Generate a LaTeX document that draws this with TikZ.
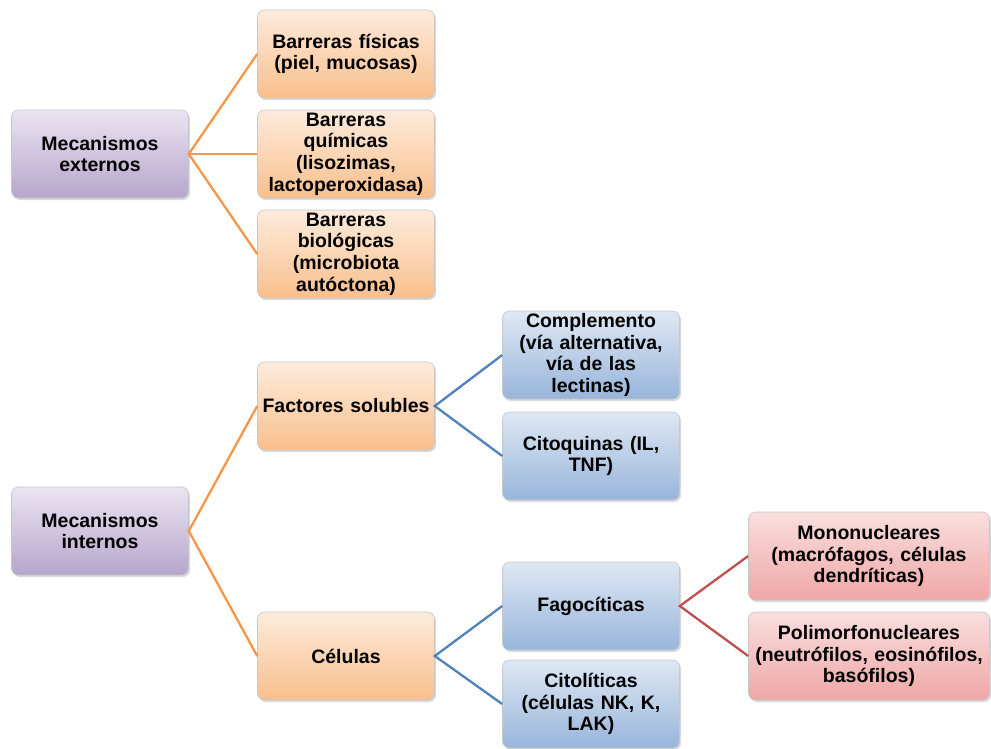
\documentclass[tikz,border=0pt]{standalone}
\usepackage{fontspec}
\setmainfont{Liberation Sans}
\usetikzlibrary{shadows}
\definecolor{lilactop}{HTML}{EAE4F2}
\definecolor{lilacbot}{HTML}{B7A6CC}
\definecolor{peachtop}{HTML}{FDEBDC}
\definecolor{peachbot}{HTML}{F9BF8C}
\definecolor{skytop}{HTML}{DEE8F4}
\definecolor{skybot}{HTML}{98B5DA}
\definecolor{rosetop}{HTML}{F9DEDE}
\definecolor{rosebot}{HTML}{EFA7A6}
\definecolor{linkorange}{HTML}{F79646}
\definecolor{linkblue}{HTML}{4F81BD}
\definecolor{linkred}{HTML}{C0504D}
\tikzset{
  box/.style={rounded corners=7pt,draw=black!22,line width=0.6pt,
    minimum width=177pt,minimum height=88pt,text width=175pt,
    align=center,inner sep=1pt,
    font=\fontsize{19.5}{21.7}\selectfont\bfseries,
    drop shadow={opacity=0.3,shadow xshift=1.5pt,shadow yshift=-2pt}},
  lilacbox/.style={box,top color=lilactop,bottom color=lilacbot},
  peachbox/.style={box,top color=peachtop,bottom color=peachbot},
  skybox/.style={box,top color=skytop,bottom color=skybot},
  rosebox/.style={box,top color=rosetop,bottom color=rosebot,
    minimum width=241pt,text width=239pt},
  link/.style={line width=2.3pt}
}
\begin{document}
\begin{tikzpicture}[x=1pt,y=-1pt]
  \useasboundingbox (0,0) rectangle (991,748);
  % Mecanismos externos
  \node[lilacbox] (ext) at (100,154) {Mecanismos\\externos};
  \node[peachbox] (fis) at (346,54) {Barreras físicas\\(piel, mucosas)};
  \node[peachbox] (qui) at (346,154) {Barreras\\químicas\\(lisozimas,\\lactoperoxidasa)};
  \node[peachbox] (bio) at (346,254) {Barreras\\biológicas\\(microbiota\\autóctona)};
  % Mecanismos internos
  \node[lilacbox] (int) at (100,531) {Mecanismos\\internos};
  \node[peachbox] (sol) at (346,406) {Factores solubles};
  \node[peachbox] (cel) at (346,656) {Células};
  \node[skybox] (comp) at (591,355) {Complemento\\(vía alternativa,\\vía de las\\lectinas)};
  \node[skybox] (cito) at (591,456) {Citoquinas (IL,\\TNF)};
  \node[skybox] (fago) at (591,606) {Fagocíticas};
  \node[skybox] (citol) at (591,704) {Citolíticas\\(células NK, K,\\LAK)};
  \node[rosebox] (mono) at (869,556) {Mononucleares\\(macrófagos, células\\dendríticas)};
  \node[rosebox] (poli) at (869,656) {Polimorfonucleares\\(neutrófilos, eosinófilos,\\basófilos)};
  % Links
  \draw[link,linkorange] (fis.west) -- (ext.east) -- (bio.west);
  \draw[link,linkorange] (ext.east) -- (qui.west);
  \draw[link,linkorange] (sol.west) -- (int.east) -- (cel.west);
  \draw[link,linkblue] (comp.west) -- (sol.east) -- (cito.west);
  \draw[link,linkblue] (fago.west) -- (cel.east) -- (citol.west);
  \draw[link,linkred] (mono.west) -- (fago.east) -- (poli.west);
\end{tikzpicture}
\end{document}
